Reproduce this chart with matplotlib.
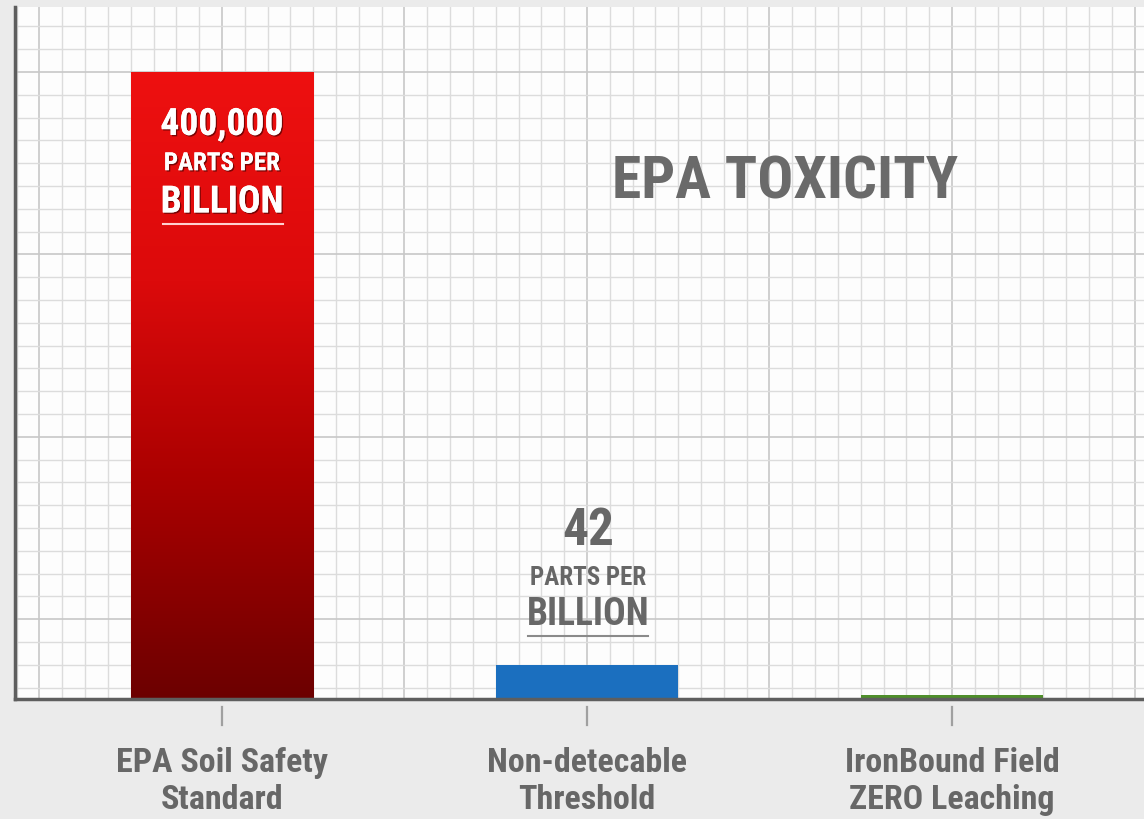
import numpy as np
import matplotlib
matplotlib.use('Agg')
import matplotlib.pyplot as plt
import matplotlib.patheffects as pe
from matplotlib import font_manager
from matplotlib.colors import LinearSegmentedColormap
from matplotlib.ticker import MultipleLocator

# data (bar heights are in grid squares, the chart is schematic)
categories = ['EPA Soil Safety\nStandard', 'Non-detecable\nThreshold', 'IronBound Field\nZERO Leaching']
bar_heights = [27.5, 1.5, 0.18]
value_labels = ['400,000', '42', None]
unit_top = 'PARTS PER'
unit_bottom = 'BILLION'
title = 'EPA TOXICITY'

# look for a narrow bold face, the original uses a condensed poster font
names = {f.name for f in font_manager.fontManager.ttflist}
narrow = [n for n in ['Liberation Sans Narrow', 'Roboto Condensed', 'Open Sans Condensed',
                      'DejaVu Sans Condensed', 'Noto Sans Condensed'] if n in names]
if not narrow:
    narrow = sorted(n for n in names if 'Condensed' in n or 'Narrow' in n)
font = narrow[:1] + ['DejaVu Sans']
gray = '#676767'

fig = plt.figure(figsize=(11.44, 8.2), dpi=100, facecolor='#ebebeb')
ax = fig.add_axes([15/1144, 120/820, 1129/1144, 692/820])
ax.set_facecolor('#fdfdfd')

x = np.arange(len(categories))
bars = ax.bar(x, bar_heights, width=0.5, color=['#c00000', '#1b6fbf', '#4f8f2b'], zorder=3)

# red gradient on first bar
red_cmap = LinearSegmentedColormap.from_list('red', ['#6c0000', '#a80000', '#dc0a0b', '#ee1010'])
grad = np.linspace(0, 1, 256).reshape(-1, 1)
b0 = bars[0]
im = ax.imshow(grad, cmap=red_cmap, origin='lower', aspect='auto', zorder=3,
               extent=[b0.get_x(), b0.get_x() + b0.get_width(), 0, b0.get_height()])
im.set_clip_path(b0)
b0.set_facecolor('none')

ax.set_xlim(-0.567, 2.526)
ax.set_ylim(0, 30.35)

# graph paper grid
ax.xaxis.set_minor_locator(MultipleLocator(1/16))
ax.xaxis.set_major_locator(MultipleLocator(0.5))
ax.set_yticks(np.arange(0.5, 30.35, 1), minor=True)
ax.set_yticks(np.arange(3.5, 30.35, 8))
ax.grid(which='minor', color='#dcdcdc', linewidth=1.0, zorder=0)
ax.grid(which='major', color='#c8c8c8', linewidth=1.2, zorder=0)
ax.set_axisbelow(True)
ax.tick_params(which='both', length=0, labelbottom=False, labelleft=False)

for s in ['top', 'right']:
    ax.spines[s].set_visible(False)
ax.spines['left'].set_color('#5e5e5e')
ax.spines['left'].set_linewidth(2.5)
ax.spines['bottom'].set_color('#5e5e5e')
ax.spines['bottom'].set_linewidth(2.5)
ax.spines['bottom'].set_zorder(4)

# tick marks and category labels below the axis
trans = ax.get_xaxis_transform()
for xi, cat in zip(x, categories):
    ax.plot([xi, xi], [-0.011, -0.037], color='#a0a0a0', lw=1.6, transform=trans, clip_on=False)
    ax.text(xi, -0.118, cat, transform=trans, ha='center', va='center', fontsize=24.5,
            fontweight='bold', family=font, color=gray, linespacing=1.2)

# value annotations
shadow = [pe.withSimplePatchShadow(offset=(1, -1), shadow_rgbFace='#300000', alpha=0.6), pe.Normal()]
ax.text(0, 25.2, value_labels[0], ha='center', va='center', fontsize=27, fontweight='bold',
        family=font, color='white', zorder=5, path_effects=shadow)
ax.text(0, 23.5, unit_top, ha='center', va='center', fontsize=18, fontweight='bold',
        family=font, color='white', zorder=5, path_effects=shadow)
ax.text(0, 21.8, unit_bottom, ha='center', va='center', fontsize=27, fontweight='bold',
        family=font, color='white', zorder=5, path_effects=shadow)
ax.plot([-0.162, 0.167], [20.83, 20.83], color='#ffd0d0', lw=1.5, zorder=5)

ax.text(1.003, 7.4, value_labels[1], ha='center', va='center', fontsize=37, fontweight='bold',
        family=font, color=gray, zorder=5)
ax.text(1.003, 5.35, unit_top, ha='center', va='center', fontsize=18, fontweight='bold',
        family=font, color=gray, zorder=5)
ax.text(1.003, 3.75, unit_bottom, ha='center', va='center', fontsize=27, fontweight='bold',
        family=font, color=gray, zorder=5)
ax.plot([0.838, 1.167], [2.76, 2.76], color='#8a8a8a', lw=1.5, zorder=5)

ax.text(1.542, 22.7, title, ha='center', va='center', fontsize=43, fontweight='bold',
        family=font, color='#6a6a6a', zorder=5)

fig.savefig('out.png', dpi=100, facecolor=fig.get_facecolor())
